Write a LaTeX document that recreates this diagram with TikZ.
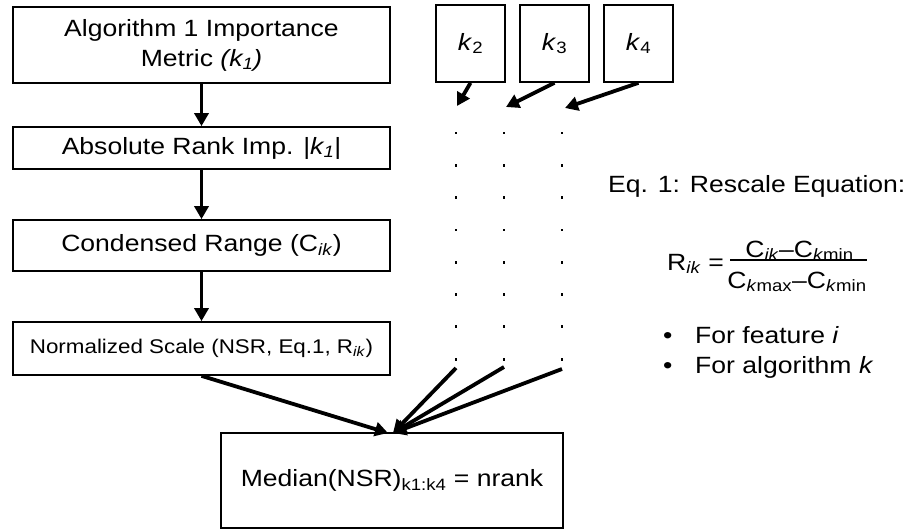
\documentclass[tikz,border=0pt]{standalone}
\usepackage{fontspec}
\setmainfont[FakeStretch=1.13]{Liberation Sans}
\usetikzlibrary{arrows.meta}
\tikzset{
  box/.style={draw, line width=1.7pt, inner sep=0pt, align=center, font=\fontsize{23.5}{30}\selectfont},
  flow/.style={line width=3.8pt, -{Triangle[length=13pt,width=14pt]}},
  txt/.style={inner sep=0pt, font=\fontsize{23.5}{30}\selectfont},
  dotmark/.style={fill=black},
}
\begin{document}
\begin{tikzpicture}[x=1pt,y=-1pt]
\useasboundingbox (0,0) rectangle (908,530);
% left column
\node[box, minimum width=377pt, minimum height=76pt] (b1) at (201.5,45)
  {Algorithm 1 Importance\\Metric \textit{(k\textsubscript{1})}};
\node[box, minimum width=377pt, minimum height=42pt] (b2) at (201.5,148)
  {Absolute Rank Imp. |\textit{k\textsubscript{1}}|};
\node[box, minimum width=377pt, minimum height=51pt] (b3) at (201.5,245.5)
  {Condensed Range (C\textsubscript{\textit{ik}})};
\node[box, minimum width=377pt, minimum height=53pt, font=\fontsize{19.8}{24}\selectfont] (b4) at (201.5,348.5)
  {Normalized Scale (NSR, Eq.1, R\textsubscript{\textit{ik}})};
\node[box, minimum width=342pt, minimum height=95pt] (med) at (392,480.5)
  {Median(NSR)\textsubscript{k1:k4} = nrank};
\draw[flow] (b1.south) -- (b2.north);
\draw[flow] (b2.south) -- (b3.north);
\draw[flow] (b3.south) -- (b4.north);
% k boxes
\node[box, minimum width=69pt, minimum height=77pt] (k2) at (470.5,43.5) {\textit{k}\textsubscript{2}};
\node[box, minimum width=69pt, minimum height=77pt] (k3) at (554.5,43.5) {\textit{k}\textsubscript{3}};
\node[box, minimum width=69pt, minimum height=77pt] (k4) at (638.5,43.5) {\textit{k}\textsubscript{4}};
\coordinate (t2) at (457,106);
\coordinate (t3) at (506,107);
\coordinate (t4) at (565,108);
\draw[flow] (k2.south) -- (t2);
\draw[flow] (k3.south) -- (t3);
\draw[flow] (k4.south) -- (t4);
% dots
\foreach \cx in {456,504,562}{
  \foreach \j in {0,...,7}{
    \fill[dotmark] (\cx-1.4,133+32.3*\j-1.4) rectangle (\cx+1.4,133+32.3*\j+1.4);
  }
}
% lines to median
\coordinate (s2) at (456,368);
\coordinate (s3) at (504,367);
\coordinate (s4) at (562,369);
\coordinate (mL) at (388,433);
\coordinate (mR) at (393,433);
\draw[flow] (b4.south) -- (mL);
\draw[flow] (s2) -- (mR);
\draw[flow] (s3) -- (mR);
\draw[flow] (s4) -- (mR);
% equation text
\node[txt, anchor=base west] (eqt) at (608,192) {Eq. 1: Rescale Equation:};
\node[txt, anchor=base west] (rik) at (667,270) {R\textsubscript{\textit{ik}} =};
\node[txt, anchor=base] (num) at (799.5,257) {C\textsubscript{\textit{ik}}–C\textsubscript{\textit{k}min}};
\node[txt, anchor=base] (den) at (797,288) {C\textsubscript{\textit{k}max}–C\textsubscript{\textit{k}min}};
\coordinate (fl) at (730,260);
\coordinate (fr) at (867,260);
\draw[line width=1.6pt] (fl) -- (fr);
\node[txt, anchor=base west] (bl1) at (663,343) {\makebox[32pt][l]{•}For feature \textit{i}};
\node[txt, anchor=base west] (bl2) at (663,373) {\makebox[32pt][l]{•}For algorithm \textit{k}};
\end{tikzpicture}
\end{document}
